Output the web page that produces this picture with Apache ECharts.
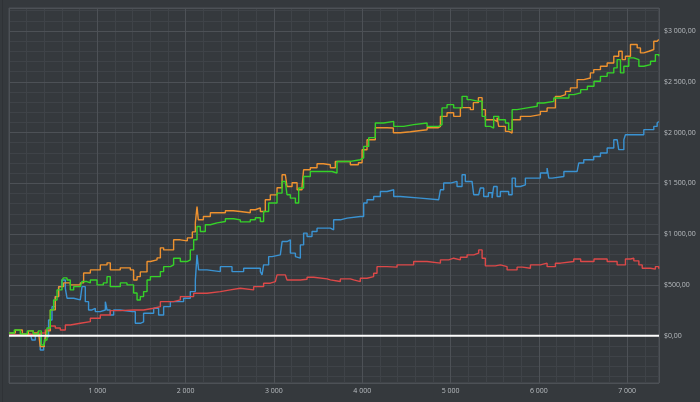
<!DOCTYPE html>
<html>
<head>
<meta charset="utf-8">
<script src="https://cdn.jsdelivr.net/npm/echarts@6/dist/echarts.min.js"></script>
<style>
html,body{margin:0;padding:0;background:#35393d;}
#c{width:700px;height:402px;}
</style>
</head>
<body>
<div id="c"></div>
<script>
// ---- data (x = trade count, y = cumulative value in $) ----
const xMin = 0;
const xMax = 7360;
const yMin = -466;
const yMax = 3227;

const orange = [[0,27],[71,56],[151,17],[219,47],[275,27],[332,47],[354,-108],[400,-82],[422,47],[468,254],[524,385],[562,483],[618,520],[694,500],[807,520],[845,618],[921,648],[1034,697],[1110,717],[1147,648],[1260,668],[1374,648],[1411,549],[1450,582],[1487,628],[1563,730],[1601,746],[1676,766],[1714,865],[1751,845],[1864,944],[1940,934],[2019,963],[2076,1022],[2110,1111],[2129,1272],[2144,1141],[2201,1174],[2280,1210],[2356,1210],[2450,1230],[2540,1223],[2619,1210],[2732,1240],[2789,1259],[2846,1223],[2902,1338],[2959,1387],[3035,1457],[3092,1585],[3129,1585],[3148,1469],[3205,1506],[3262,1437],[3318,1469],[3336,1634],[3412,1654],[3488,1693],[3559,1683],[3639,1654],[3695,1716],[3865,1683],[3956,1703],[3998,1831],[4054,1930],[4148,2048],[4281,2045],[4352,1999],[4431,2009],[4545,2028],[4734,2048],[4862,2061],[4885,2160],[4960,2196],[5035,2160],[5111,2246],[5224,2226],[5258,2295],[5315,2344],[5357,2226],[5394,2127],[5488,2110],[5527,2147],[5545,2061],[5621,2012],[5658,1996],[5697,2127],[5791,2160],[5904,2177],[6017,2209],[6093,2243],[6187,2357],[6244,2374],[6301,2406],[6357,2440],[6433,2522],[6508,2538],[6583,2588],[6621,2620],[6697,2653],[6773,2686],[6848,2752],[6904,2801],[6943,2719],[6980,2752],[7037,2867],[7075,2867],[7113,2834],[7150,2785],[7188,2801],[7245,2818],[7301,2900],[7339,2916],[7357,2885]];

const green = [[0,27],[60,56],[128,17],[207,47],[275,17],[332,47],[366,-92],[400,-42],[430,76],[468,254],[505,352],[544,451],[600,549],[618,569],[657,549],[694,451],[732,483],[807,483],[827,533],[883,520],[921,549],[997,500],[1068,520],[1110,582],[1147,483],[1260,520],[1336,500],[1411,421],[1450,352],[1487,385],[1524,434],[1563,549],[1601,582],[1638,582],[1714,631],[1751,680],[1827,697],[1864,763],[1940,730],[2016,746],[2053,845],[2091,944],[2129,1075],[2166,1026],[2223,1092],[2280,1111],[2356,1124],[2450,1151],[2544,1141],[2619,1121],[2732,1141],[2789,1161],[2846,1124],[2883,1223],[2940,1306],[3035,1404],[3092,1519],[3129,1535],[3148,1388],[3186,1355],[3243,1306],[3280,1454],[3336,1568],[3412,1617],[3563,1617],[3658,1602],[3714,1716],[3865,1733],[3978,1750],[4016,1864],[4073,1950],[4148,2095],[4242,2110],[4356,2061],[4469,2078],[4582,2095],[4734,2061],[4865,2078],[4903,2243],[4960,2275],[5035,2243],[5130,2357],[5187,2325],[5224,2308],[5318,2308],[5357,2160],[5394,2061],[5451,2045],[5488,2160],[5545,2127],[5621,2095],[5658,2029],[5697,2226],[5753,2243],[5867,2259],[5981,2292],[6056,2308],[6169,2341],[6283,2341],[6340,2374],[6397,2391],[6473,2423],[6549,2456],[6624,2505],[6697,2554],[6773,2588],[6848,2637],[6886,2719],[6924,2588],[6962,2653],[7018,2736],[7075,2719],[7132,2653],[7188,2670],[7264,2702],[7319,2768],[7357,2752]];

const blue = [[0,7],[128,17],[241,7],[260,-42],[298,7],[354,-141],[392,-111],[411,-10],[448,155],[487,286],[524,385],[562,483],[600,549],[638,467],[657,369],[732,352],[807,369],[827,483],[864,335],[901,253],[940,270],[977,237],[1034,253],[1091,335],[1110,253],[1147,204],[1185,253],[1260,237],[1393,237],[1430,122],[1487,135],[1524,221],[1601,221],[1638,270],[1694,204],[1751,286],[1827,335],[1977,369],[2053,434],[2110,549],[2129,796],[2147,648],[2242,631],[2393,680],[2525,631],[2657,664],[2789,664],[2846,631],[2865,599],[2883,697],[2940,779],[2978,796],[3072,813],[3092,927],[3148,911],[3167,944],[3186,813],[3243,779],[3262,763],[3299,894],[3336,1010],[3375,977],[3431,1026],[3488,1059],[3639,1042],[3676,1141],[3752,1158],[3828,1174],[3978,1174],[4016,1306],[4054,1338],[4129,1371],[4205,1420],[4281,1437],[4356,1371],[4431,1355],[4658,1338],[4865,1338],[4885,1437],[4922,1503],[4998,1519],[5073,1469],[5130,1585],[5167,1519],[5243,1519],[5262,1388],[5318,1388],[5337,1454],[5375,1371],[5428,1407],[5470,1355],[5488,1469],[5527,1371],[5564,1420],[5658,1388],[5697,1552],[5734,1469],[5791,1486],[5847,1552],[6017,1602],[6093,1651],[6112,1552],[6150,1568],[6283,1617],[6433,1602],[6451,1700],[6508,1733],[6621,1765],[6697,1799],[6773,1849],[6848,1930],[6886,1930],[6904,1832],[6962,1930],[6980,1979],[7150,1979],[7188,2029],[7301,2061],[7339,2095],[7357,2110]];

const red = [[0,7],[128,17],[298,7],[354,27],[411,56],[468,96],[524,76],[581,56],[638,105],[694,122],[807,138],[921,172],[1034,204],[1147,247],[1260,253],[1411,253],[1524,270],[1638,286],[1714,335],[1864,352],[1940,385],[2091,418],[2242,434],[2393,451],[2506,467],[2619,451],[2770,483],[2883,517],[2959,533],[3016,549],[3035,599],[3129,582],[3148,549],[3299,556],[3375,576],[3450,559],[3601,549],[3639,533],[3752,559],[3865,549],[3903,533],[3978,566],[4054,582],[4129,615],[4167,680],[4281,675],[4394,697],[4582,730],[4734,714],[4885,747],[4979,763],[5035,747],[5111,773],[5187,796],[5262,813],[5318,845],[5357,763],[5394,687],[5507,697],[5564,680],[5640,648],[5753,675],[5813,664],[5904,697],[6017,714],[6093,680],[6187,714],[6244,730],[6395,755],[6473,730],[6624,755],[6773,730],[6886,697],[6980,755],[7037,763],[7075,737],[7132,697],[7170,664],[7264,655],[7319,680],[7357,658]];

const zeroLine = [[xMin,0],[xMax,0]];

// ---- helpers ----
function thousands(v){ return String(v).replace(/\B(?=(\d{3})+(?!\d))/g,' '); }
const BG = '#35393d';
const MAJOR = '#4d5156';
const MINOR = '#3f4348';
const TXT = '#b9bdc1';
const FONT = 'Open Sans';

const chart = echarts.init(document.getElementById('c'), null, {renderer:'canvas'});
const lineSeries = (name, data, color, z) => ({
  name, type:'line', data, step:'end', showSymbol:false, symbol:'none',
  xAxisIndex:0, yAxisIndex:0, z,
  lineStyle:{color, width:1.4}, itemStyle:{color}, animation:false
});

chart.setOption({
  backgroundColor: BG,
  animation:false,
  grid:{left:9,right:41,top:8,bottom:19,containLabel:false,outerBoundsMode:'none',
        show:true,borderColor:MAJOR,borderWidth:1,backgroundColor:'transparent'},
  graphic:[{type:'line',shape:{x1:2.5,y1:0,x2:2.5,y2:402},style:{stroke:'#2f3236',lineWidth:1},silent:true}],
  xAxis:[
    { type:'value', min:xMin, max:xMax, interval:200, position:'bottom', z:1,
      axisLine:{show:false},
      axisTick:{show:true,length:3,lineStyle:{color:MINOR}},
      splitLine:{show:true,lineStyle:{color:MINOR,width:1}},
      axisLabel:{show:true,margin:4,color:TXT,fontSize:7,fontFamily:FONT,showMaxLabel:false,
        formatter:v=> (v>0 && v%1000===0) ? thousands(v) : ''} },
    { type:'value', min:xMin, max:xMax, interval:1000, position:'bottom', z:2,
      axisLine:{show:false}, axisTick:{show:false}, axisLabel:{show:false},
      splitLine:{show:true,lineStyle:{color:MAJOR,width:1}} }
  ],
  yAxis:[
    { type:'value', min:yMin, max:yMax, minInterval:100, maxInterval:100, splitNumber:37, position:'right', z:1,
      name:'Value', nameLocation:'middle', nameGap:43, nameRotate:-90,
      nameTextStyle:{color:TXT,fontSize:8,fontFamily:FONT},
      axisLine:{show:false},
      axisTick:{show:true,length:3,lineStyle:{color:MINOR}},
      splitLine:{show:true,lineStyle:{color:MINOR,width:1}},
      axisLabel:{show:true,margin:5,color:TXT,fontSize:7,fontFamily:FONT,
        formatter:v=> (v>=0 && v%500===0) ? '$'+thousands(v)+',00' : ''} },
    { type:'value', min:yMin, max:yMax, minInterval:500, maxInterval:500, splitNumber:7, position:'right', z:2,
      axisLine:{show:false}, axisTick:{show:false}, axisLabel:{show:false},
      splitLine:{show:true,lineStyle:{color:MAJOR,width:1}} }
  ],
  series:[
    lineSeries('Blue', blue, '#3a93d3', 3),
    lineSeries('Red', red, '#dd4848', 4),
    lineSeries('Orange', orange, '#ef922f', 5),
    lineSeries('Green', green, '#35d228', 6),
    { name:'Zero', type:'line', data:zeroLine, showSymbol:false, symbol:'none', z:10,
      lineStyle:{color:'#ffffff',width:2}, animation:false }
  ]
});
</script>
</body>
</html>
